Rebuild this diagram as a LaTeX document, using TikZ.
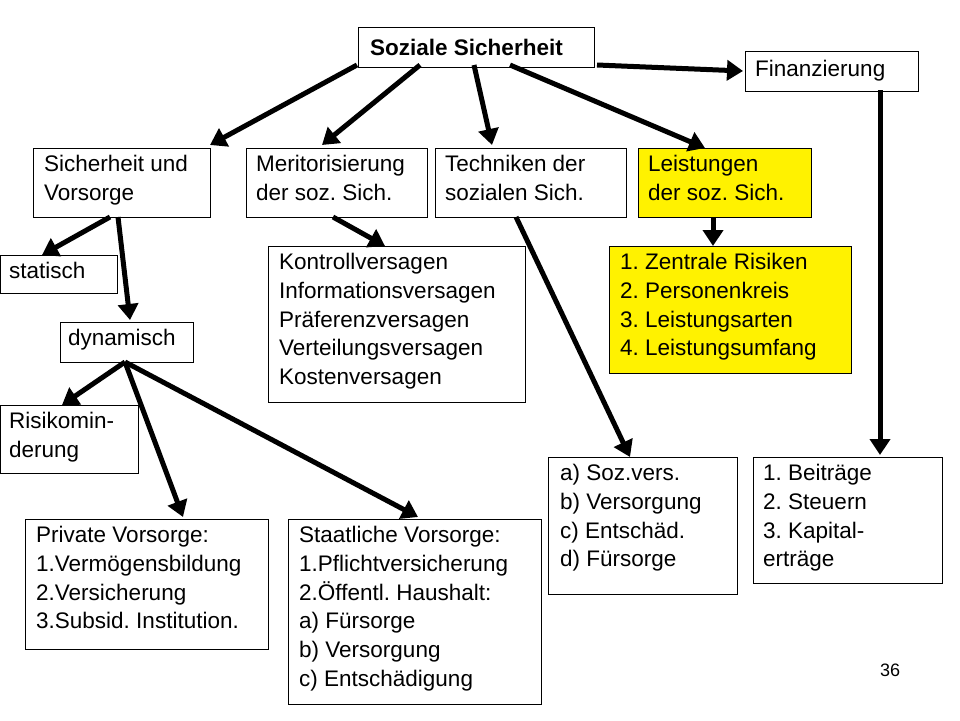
\documentclass[tikz,border=0pt]{standalone}
\usepackage{fontspec}
\setmainfont{Liberation Sans}
\usetikzlibrary{arrows.meta}
\frenchspacing
\begin{document}
\begin{tikzpicture}[x=1pt,y=-1pt,
  box/.style={draw,line width=0.8pt,anchor=north west,inner sep=0pt},
  arr/.style={line width=5pt,-{Triangle[length=16pt,width=20pt]}}]
\useasboundingbox (0,0) rectangle (960,720);
\newcommand\bx[6]{\node[box,#6,minimum width=#4-#2,minimum height=#5-#3] (#1) at (#2,#3) {};}
\newcommand\tx[3]{\node[anchor=north west,align=left,inner sep=0pt,font=\fontsize{22.5}{28.8}\selectfont] at (#1,#2) {#3};}
\bx{ss}{358}{27}{594}{67}{}
\node[anchor=west,inner sep=0pt,font=\bfseries\fontsize{22.5}{28}\selectfont] at (370,47) {Soziale Sicherheit};
\bx{fi}{745}{51}{918}{91}{}
\node[anchor=west,inner sep=0pt,font=\fontsize{22.5}{28}\selectfont] at (755,71) {Finanzierung};
\bx{sv}{33}{148}{210}{217}{}
\tx{44}{155}{Sicherheit und\\Vorsorge}
\bx{me}{246}{148}{427}{217}{}
\tx{256}{155}{Meritorisierung\\der soz. Sich.}
\bx{te}{435}{148}{626}{217}{}
\tx{445}{155}{Techniken der\\sozialen Sich.}
\bx{le}{638}{148}{811}{217}{fill=yellow}
\tx{648}{155}{Leistungen\\der soz. Sich.}
\bx{st}{0}{255}{117}{293}{}
\tx{9}{262}{statisch}
\bx{dy}{60}{322}{193}{362}{}
\tx{68}{329}{dynamisch}
\bx{ko}{268}{246}{525}{402}{}
\tx{279}{253}{Kontrollversagen\\Informationsversagen\\Präferenzversagen\\Verteilungsversagen\\Kostenversagen}
\bx{ly}{609}{246}{851}{373}{fill=yellow}
\tx{620}{253}{1. Zentrale Risiken\\2. Personenkreis\\3. Leistungsarten\\4. Leistungsumfang}
\bx{ri}{0}{405}{138}{473}{}
\tx{9}{412}{Risikomin-\\derung}
\bx{pv}{25}{519}{268}{649}{}
\tx{36}{526}{Private Vorsorge:\\1.Vermögensbildung\\2.Versicherung\\3.Subsid. Institution.}
\bx{sta}{288}{519}{541}{704}{}
\tx{299}{526}{Staatliche Vorsorge:\\1.Pflichtversicherung\\2.Öffentl. Haushalt:\\a) Fürsorge\\b) Versorgung\\c) Entschädigung}
\bx{so}{548}{457}{737}{594}{}
\tx{560}{464}{a) Soz.vers.\\b) Versorgung\\c) Entschäd.\\d) Fürsorge}
\bx{be}{753}{457}{942}{583}{}
\tx{763}{464}{1. Beiträge\\2. Steuern\\3. Kapital-\\erträge}
\node[font=\fontsize{18}{20}\selectfont] (pg) at (890,670) {36};
\draw[arr] (357,65) -- (210,145);
\draw[arr] (420,65) -- (322,145);
\draw[arr] (474,65) -- (492,145);
\draw[arr] (510,65) -- (705,148);
\draw[arr] (597,65) -- (743,71);
\draw[arr] (880,90) -- (880,455);
\draw[arr] (118,217) -- (130,320);
\draw[arr] (110,217) -- (42,255);
\draw[arr] (333,217) -- (385,246);
\draw[arr] (713,217) -- (713,246);
\draw[arr] (516,217) -- (630,457);
\draw[arr] (125,362) -- (62,405);
\draw[arr] (125,362) -- (183,517);
\draw[arr] (125,362) -- (418,517);
\end{tikzpicture}
\end{document}
